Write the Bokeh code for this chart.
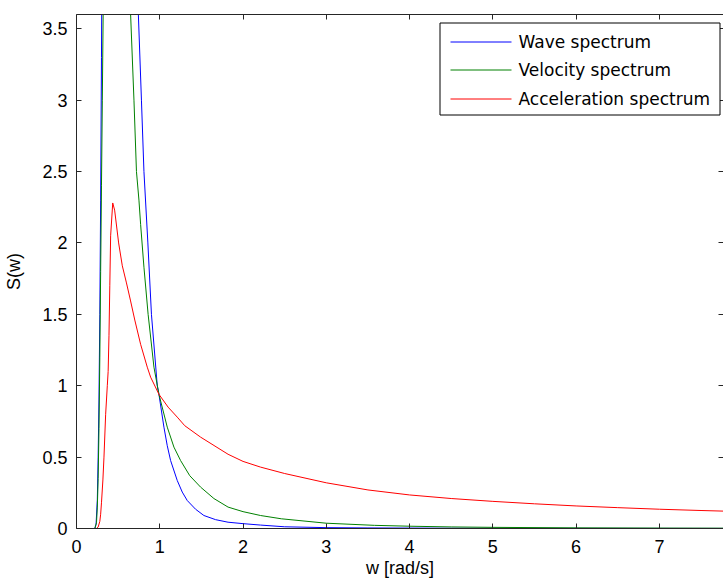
from bokeh.plotting import figure
from bokeh.models import LinearAxis, FixedTicker, Range1d, BoxAnnotation, Arrow, Label
from bokeh.embed import file_html
from bokeh.resources import INLINE

# ---- data ----
w_wave = [0.20, 0.22, 0.235, 0.25, 0.26, 0.27, 0.28, 0.29, 0.30, 0.31, 0.33, 0.35,
          0.40, 0.45, 0.50, 0.55, 0.60, 0.65, 0.70, 0.743, 0.78, 0.81, 0.857, 0.90,
          0.97, 0.99, 1.05, 1.09, 1.13, 1.21, 1.27, 1.33, 1.43, 1.53, 1.67, 1.82, 2.0, 2.21, 2.5, 3.0, 3.5,
          4.0, 4.5, 5.0, 6.0, 7.0, 8.0]
wave_spec = [0.0, 0.0, 0.03, 0.2, 0.5, 0.9, 1.5, 2.3, 3.3, 4.5, 8.0, 15.0,
             45.0, 50.0, 32.0, 20.0, 13.0, 8.5, 5.5, 3.6, 3.0, 2.5, 2.0, 1.5,
             1.0, 0.94, 0.71, 0.58, 0.476, 0.336, 0.255, 0.196, 0.135, 0.091, 0.062, 0.044, 0.034, 0.024, 0.012, 0.006, 0.004,
             0.003, 0.002, 0.0015, 0.001, 0.0007, 0.0005]

w_vel = [0.20, 0.22, 0.24, 0.25, 0.26, 0.27, 0.28, 0.29, 0.30, 0.31, 0.32, 0.34,
         0.40, 0.45, 0.50, 0.55, 0.60, 0.65, 0.69, 0.72, 0.75, 0.77, 0.81, 0.86,
         0.93, 0.99, 1.09, 1.17, 1.25, 1.36, 1.49, 1.65, 1.82, 2.0, 2.21, 2.46, 3.0, 3.58, 4.0, 4.5,
         5.0, 6.0, 7.0, 8.0]
vel_spec = [0.0, 0.0, 0.04, 0.15, 0.35, 0.7, 1.2, 1.8, 2.4, 3.0, 3.6, 5.0,
            10.0, 11.0, 8.5, 6.2, 4.7, 3.6, 3.0, 2.5, 2.3, 2.13, 1.83, 1.5,
            1.13, 0.94, 0.71, 0.57, 0.476, 0.37, 0.29, 0.21, 0.15, 0.118, 0.091, 0.068, 0.037, 0.022, 0.016, 0.011,
            0.008, 0.0045, 0.003, 0.002]

w_acc = [0.20, 0.24, 0.26, 0.28, 0.29, 0.30, 0.317, 0.33, 0.35, 0.37, 0.38, 0.39,
         0.40, 0.41, 0.435, 0.458, 0.506, 0.55, 0.60, 0.647, 0.70, 0.77, 0.85, 0.89,
         0.99, 1.1, 1.21, 1.3, 1.49, 1.82, 2.0, 2.21, 2.5, 3.0, 3.5, 4.0, 4.5,
         5.0, 5.5, 6.0, 6.5, 7.0, 7.5, 8.0]
acc_spec = [0.0, 0.0, 0.01, 0.05, 0.1, 0.18, 0.34, 0.5, 0.8, 1.0, 1.1, 1.35,
            1.7, 2.05, 2.28, 2.23, 2.0, 1.84, 1.72, 1.6, 1.46, 1.29, 1.13, 1.06,
            0.94, 0.85, 0.78, 0.72, 0.64, 0.52, 0.47, 0.43, 0.385, 0.32, 0.27, 0.235, 0.21,
            0.19, 0.173, 0.158, 0.146, 0.135, 0.126, 0.118]

x_ticks = [0, 1, 2, 3, 4, 5, 6, 7, 8]
x_tick_labels = ["0", "1", "2", "3", "4", "5", "6", "7", "8"]
y_ticks = [0, 0.5, 1, 1.5, 2, 2.5, 3, 3.5]
y_tick_labels = ["0", "0.5", "1", "1.5", "2", "2.5", "3", "3.5"]
x_title = "w [rad/s]"
y_title = "S(w)"

series_names = ["Wave spectrum", "Velocity spectrum", "Acceleration spectrum"]
series_colors = ["#0000FF", "#008000", "#FF0000"]

AX = "#262626"
FONT = "Liberation Sans"

p = figure(width=723, height=581, output_backend="svg", toolbar_location=None,
           x_range=Range1d(0, 7.77), y_range=Range1d(0, 3.6),
           min_border_left=76, min_border_right=0, min_border_top=14, min_border_bottom=53,
           x_axis_label=x_title, y_axis_label=y_title)
p.grid.visible = False
p.outline_line_color = None
p.background_fill_color = "white"
p.border_fill_color = "white"

p.line(w_wave, wave_spec, line_color=series_colors[0], line_width=1)
p.line(w_vel, vel_spec, line_color=series_colors[1], line_width=1)
p.line(w_acc, acc_spec, line_color=series_colors[2], line_width=1)

def style_axis(ax, ticks, labels, show_labels=True):
    ax.ticker = FixedTicker(ticks=ticks)
    ax.major_label_overrides = {t: l for t, l in zip(ticks, labels)}
    ax.axis_line_color = AX
    ax.major_tick_line_color = AX
    ax.major_tick_in = 5
    ax.major_tick_out = 0
    ax.minor_tick_line_color = None
    ax.minor_tick_in = 0
    ax.minor_tick_out = 0
    if show_labels:
        ax.major_label_text_font = FONT
        ax.major_label_text_font_size = "18px"
        ax.major_label_text_color = "#000000"
        ax.axis_label_text_font = FONT
        ax.axis_label_text_font_size = "18px"
        ax.axis_label_text_font_style = "normal"
        ax.axis_label_text_color = "#000000"
    else:
        ax.major_label_text_font_size = "1px"
        ax.major_label_text_color = None
        ax.major_label_standoff = 0

style_axis(p.xaxis[0], x_ticks, x_tick_labels)
style_axis(p.yaxis[0], y_ticks, y_tick_labels)
p.xaxis[0].major_label_standoff = 11
p.xaxis[0].axis_label_standoff = 2
p.yaxis[0].major_label_standoff = 9
p.yaxis[0].axis_label_standoff = 15

top = LinearAxis()
style_axis(top, x_ticks, x_tick_labels, show_labels=False)
p.add_layout(top, "above")
right = LinearAxis()
style_axis(right, y_ticks, y_tick_labels, show_labels=False)
right.axis_line_color = None
p.add_layout(right, "right")

# ---- legend drawn with annotations (frame-relative screen units) ----
p.add_layout(BoxAnnotation(left=363.5, right=643.5, bottom=413.5, top=505.5,
                           left_units="screen", right_units="screen",
                           bottom_units="screen", top_units="screen",
                           fill_color="white", fill_alpha=1.0,
                           line_color="#000000", line_width=1, line_alpha=1.0))
row_y = [486.5, 458.5, 429.5]
for name, color, yy in zip(series_names, series_colors, row_y):
    p.add_layout(Arrow(start=None, end=None, x_start=374, y_start=yy, x_end=435, y_end=yy,
                       start_units="screen", end_units="screen",
                       line_color=color, line_width=1))
    p.add_layout(Label(x=442, y=yy, x_units="screen", y_units="screen", text=name,
                       text_baseline="middle", text_align="left",
                       text_font="DejaVu Sans", text_font_size="17px",
                       text_color="#000000"))

open("out.html", "w").write(file_html(p, INLINE))
